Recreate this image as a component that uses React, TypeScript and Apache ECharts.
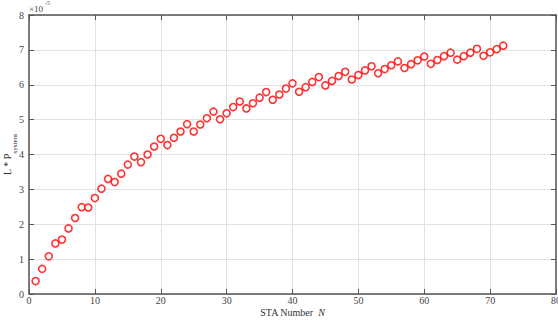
import React, { useEffect, useRef } from "react";
import * as echarts from "echarts";

const staNumbers = [
  1, 2, 3, 4, 5, 6, 7, 8, 9, 10, 11, 12, 13, 14, 15, 16, 17, 18, 19, 20, 21, 22, 23, 24,
  25, 26, 27, 28, 29, 30, 31, 32, 33, 34, 35, 36, 37, 38, 39, 40, 41, 42, 43, 44, 45, 46, 47, 48,
  49, 50, 51, 52, 53, 54, 55, 56, 57, 58, 59, 60, 61, 62, 63, 64, 65, 66, 67, 68, 69, 70, 71, 72,
];

// L * P_system, in units of 1e-5
const lpSystem = [
  0.37, 0.72, 1.08, 1.45, 1.56, 1.88, 2.18, 2.49, 2.48, 2.75, 3.02, 3.3,
  3.21, 3.45, 3.71, 3.94, 3.78, 4.0, 4.23, 4.45, 4.27, 4.48, 4.66, 4.87,
  4.66, 4.86, 5.04, 5.23, 5.01, 5.18, 5.36, 5.52, 5.32, 5.47, 5.63, 5.79,
  5.57, 5.72, 5.89, 6.04, 5.8, 5.93, 6.08, 6.22, 5.98, 6.11, 6.25, 6.37,
  6.15, 6.28, 6.41, 6.53, 6.33, 6.45, 6.56, 6.67, 6.48, 6.59, 6.7, 6.81,
  6.6, 6.71, 6.82, 6.92, 6.72, 6.82, 6.92, 7.03, 6.83, 6.93, 7.02, 7.12,
];

const xMax = 80;
const yMax = 8;

export default function App() {
  const ref = useRef<HTMLDivElement>(null);
  useEffect(() => {
    if (!ref.current) return;
    const chart = echarts.init(ref.current, undefined, { renderer: "svg" });
    const font = "Liberation Serif";
    const axisColor = "#555";
    const gridColor = "#e2e2e2";
    const baseAxis = {
      type: "value" as const,
      min: 0,
      axisLine: { show: true, onZero: false, lineStyle: { color: axisColor, width: 1.5 } },
      axisTick: { show: true, inside: true, length: 5, lineStyle: { color: axisColor, width: 1 } },
    };
    chart.setOption({
      animation: false,
      backgroundColor: "#fff",
      textStyle: { fontFamily: font },
      grid: {
        left: 29,
        right: 2,
        top: 15,
        bottom: 26,
        containLabel: false,
        outerBoundsMode: "none",
      },
      xAxis: [
        {
          ...baseAxis,
          position: "bottom",
          max: xMax,
          interval: 10,
          axisLabel: { color: "#444", fontFamily: font, fontSize: 10, margin: 1, lineHeight: 10 },
          splitLine: { show: true, lineStyle: { color: gridColor, width: 1 } },
          name: "STA Number  {i|N}",
          nameLocation: "middle",
          nameGap: 13,
          nameMoveOverlap: false,
          nameTextStyle: {
            color: "#333",
            fontFamily: font,
            fontSize: 10,
            lineHeight: 10,
            rich: { i: { fontStyle: "italic", fontFamily: font, fontSize: 10, lineHeight: 10, color: "#333" } },
          },
        },
        {
          ...baseAxis,
          position: "top",
          max: xMax,
          interval: 10,
          axisLabel: { show: false },
          splitLine: { show: false },
        },
      ],
      yAxis: [
        {
          ...baseAxis,
          position: "left",
          max: yMax,
          interval: 1,
          axisLabel: { color: "#444", fontFamily: font, fontSize: 10, margin: 5 },
          splitLine: { show: true, lineStyle: { color: gridColor, width: 1 } },
          name: "{a|L * P}{b|system}",
          nameLocation: "middle",
          nameGap: 11,
          nameMoveOverlap: false,
          nameRotate: 90,
          nameTextStyle: {
            color: "#333",
            fontFamily: font,
            rich: {
              a: { fontSize: 10, fontFamily: font, color: "#333", lineHeight: 16, verticalAlign: "top" },
              b: { fontSize: 7, fontFamily: font, color: "#333", lineHeight: 16, verticalAlign: "bottom" },
            },
          },
        },
        {
          ...baseAxis,
          position: "right",
          max: yMax,
          interval: 1,
          axisLabel: { show: false },
          splitLine: { show: false },
        },
      ],
      graphic: [
        {
          type: "text",
          left: 29,
          top: 4,
          style: { text: "×10", fontFamily: font, fontSize: 9, fill: "#444" },
        },
        {
          type: "text",
          left: 45,
          top: 0,
          style: { text: "-5", fontFamily: font, fontSize: 6, fill: "#444" },
        },
      ],
      series: [
        {
          type: "scatter",
          xAxisIndex: 0,
          yAxisIndex: 0,
          data: staNumbers.map((n, i) => [n, lpSystem[i]]),
          symbol: "circle",
          symbolSize: 7,
          itemStyle: { color: "#fff", borderColor: "#ff0000", borderWidth: 1.6 },
          silent: true,
        },
      ],
    });
    return () => chart.dispose();
  }, []);
  return (
    <div
      ref={ref}
      style={{ position: "fixed", left: 0, top: 0, width: 558, height: 320, background: "#fff" }}
    />
  );
}
